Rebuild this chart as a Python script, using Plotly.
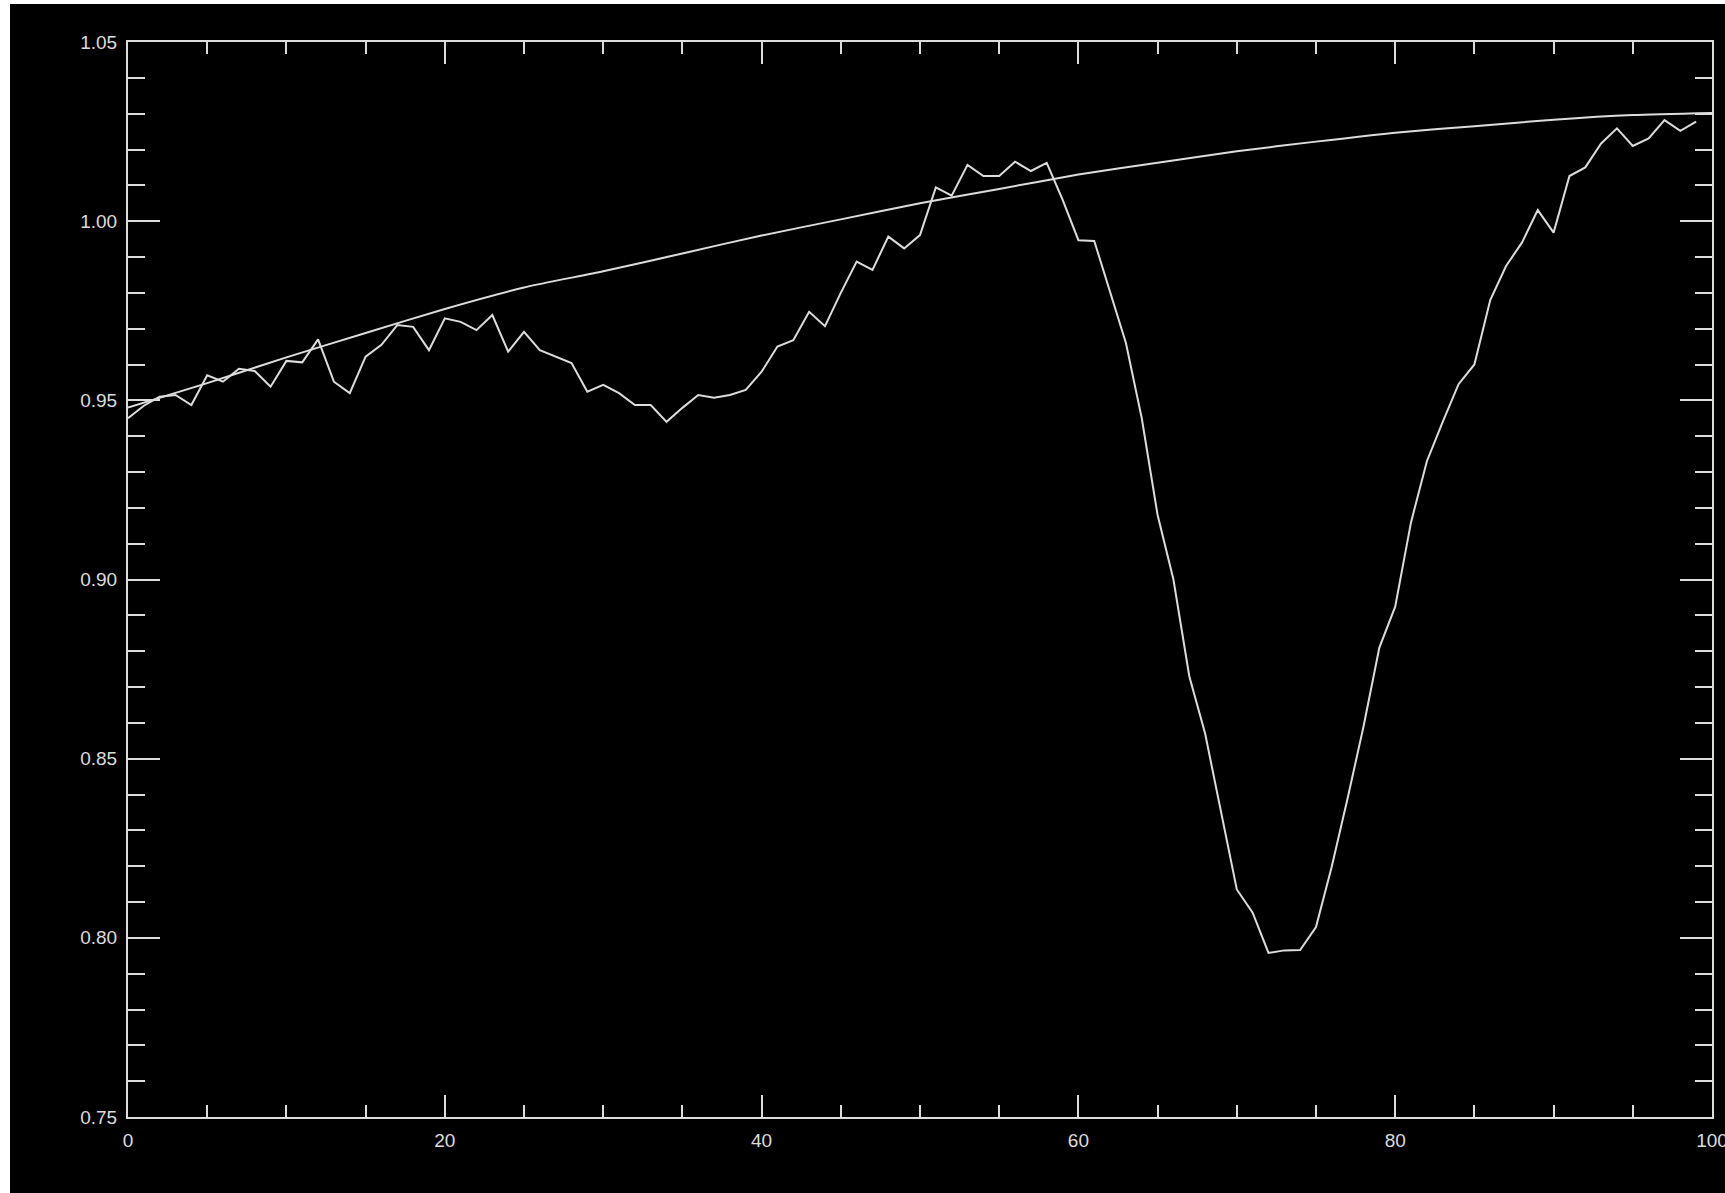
import plotly.graph_objects as go

# ---- data ----
obs_x = list(range(100))
obs_y = [
    0.9450, 0.9485, 0.9510, 0.9515, 0.9487, 0.9570, 0.9552, 0.9588, 0.9582, 0.9538,
    0.9610, 0.9606, 0.9670, 0.9552, 0.9520, 0.9622, 0.9655, 0.9710, 0.9705, 0.9640,
    0.9729, 0.9719, 0.9696, 0.9738, 0.9636, 0.9691, 0.9640, 0.9622, 0.9604, 0.9524,
    0.9543, 0.9520, 0.9487, 0.9487, 0.9440, 0.9479, 0.9515, 0.9507, 0.9515, 0.9529,
    0.9580, 0.9650, 0.9668, 0.9747, 0.9707, 0.9800, 0.9887, 0.9864, 0.9957, 0.9924,
    0.9961, 1.0094, 1.0071, 1.0157, 1.0126, 1.0126, 1.0166, 1.0140, 1.0163, 1.0060,
    0.9947, 0.9945, 0.9800, 0.9660, 0.9450, 0.9180, 0.9000, 0.8730, 0.8570, 0.8350,
    0.8135, 0.8070, 0.7958, 0.7965, 0.7966, 0.8030, 0.8200, 0.8390, 0.8590, 0.8810,
    0.8924, 0.9160, 0.9330, 0.9440, 0.9545, 0.9600, 0.9780, 0.9875, 0.9940, 1.0031,
    0.9968, 1.0126, 1.0150, 1.0217, 1.0259, 1.0210, 1.0231, 1.0282, 1.0252, 1.0278,
]

fit_x = [0, 5, 10, 15, 20, 25, 30, 35, 40, 45, 50, 55, 60, 65, 70, 75, 80, 85, 90, 95, 100]
fit_y = [0.9480, 0.9548, 0.9620, 0.9688, 0.9755, 0.9815, 0.9860, 0.9910, 0.9960, 1.0005,
         1.0050, 1.0090, 1.0130, 1.0163, 1.0195, 1.0222, 1.0247, 1.0265, 1.0283, 1.0296, 1.0302]

x_tickvals = [0, 20, 40, 60, 80, 100]
y_tickvals = [0.75, 0.80, 0.85, 0.90, 0.95, 1.00, 1.05]

LINE = "#dcdcdc"
FONT = dict(family="Liberation Sans, Arial, sans-serif", size=19, color=LINE)

fig = go.Figure()
fig.add_trace(go.Scatter(x=fit_x, y=fit_y, mode="lines",
                         line=dict(color=LINE, width=2, shape="spline", smoothing=0.6),
                         hoverinfo="skip", showlegend=False))
fig.add_trace(go.Scatter(x=obs_x, y=obs_y, mode="lines",
                         line=dict(color=LINE, width=2),
                         hoverinfo="skip", showlegend=False))

W, H = 1725, 1193
L, R, T, B = 128, 13, 42, 76
pw, ph = W - L - R, H - T - B

fig.update_layout(
    width=W, height=H,
    margin=dict(l=L, r=R, t=T, b=B, pad=0, autoexpand=False),
    paper_bgcolor="black", plot_bgcolor="black",
    font=FONT,
    showlegend=False,
    shapes=[
        # thin white strips at the left and top edges of the picture
        dict(type="rect", xref="paper", yref="paper",
             x0=(0 - L) / pw, x1=(10 - L) / pw, y0=-0.2, y1=1.2,
             fillcolor="white", line=dict(width=0), layer="below"),
        dict(type="rect", xref="paper", yref="paper",
             x0=-0.2, x1=1.2, y0=(H - B - 4) / ph, y1=(H - B + 10) / ph,
             fillcolor="white", line=dict(width=0), layer="below"),
    ],
)

fig.update_xaxes(
    range=[0, 100], tickmode="array", tickvals=x_tickvals, automargin=False,
    ticks="inside", ticklen=22, tickwidth=2, tickcolor=LINE,
    showline=True, linewidth=2, linecolor=LINE, mirror="allticks",
    showgrid=False, zeroline=False, tickfont=FONT, ticklabelstandoff=5,
    ticklabeloverflow="allow",
    minor=dict(dtick=5, tick0=0, ticks="inside", ticklen=12, tickwidth=2,
               tickcolor=LINE, showgrid=False),
)
fig.update_yaxes(
    range=[0.75, 1.05], tickmode="array", tickvals=y_tickvals, tickformat=".2f",
    automargin=False,
    ticks="inside", ticklen=32, tickwidth=2, tickcolor=LINE,
    showline=True, linewidth=2, linecolor=LINE, mirror="allticks",
    showgrid=False, zeroline=False, tickfont=FONT, ticklabelstandoff=5,
    ticklabeloverflow="allow",
    minor=dict(dtick=0.01, tick0=0.75, ticks="inside", ticklen=17, tickwidth=2,
               tickcolor=LINE, showgrid=False),
)

fig.write_html("out.html", config={"displayModeBar": False},
               post_script="document.body.style.margin='0px';document.body.style.overflow='hidden';")
